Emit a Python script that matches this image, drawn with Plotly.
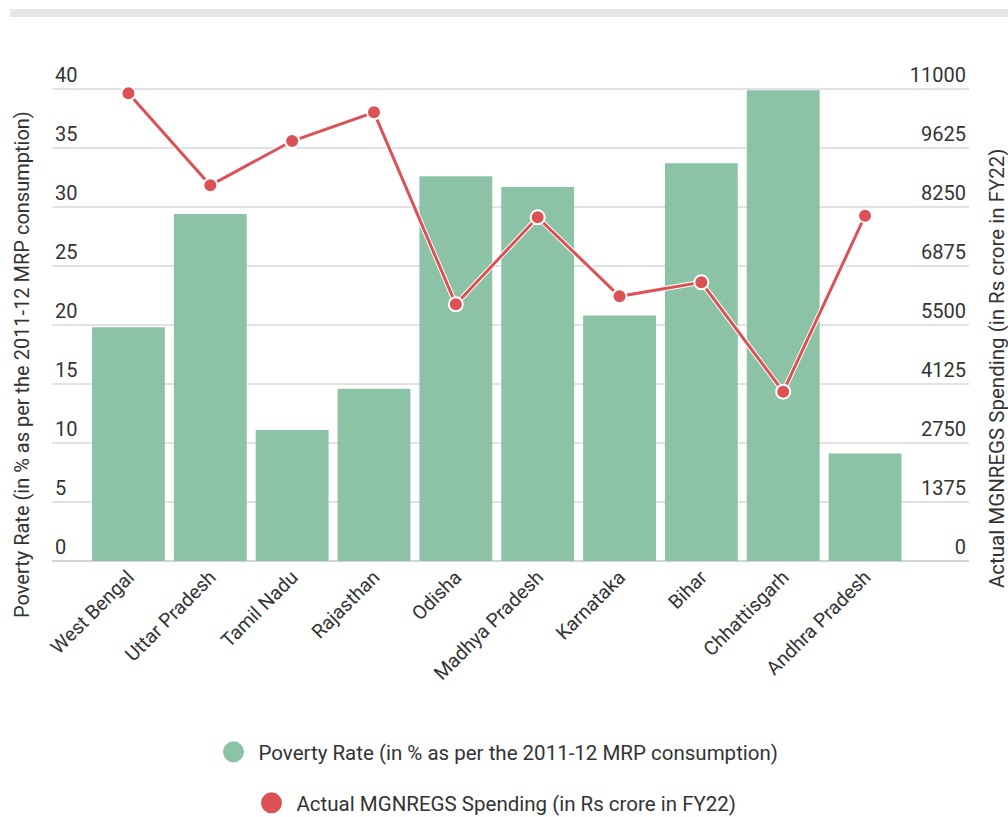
import plotly.graph_objects as go

# ---- data ----
states = ["West Bengal", "Uttar Pradesh", "Tamil Nadu", "Rajasthan", "Odisha",
          "Madhya Pradesh", "Karnataka", "Bihar", "Chhattisgarh", "Andhra Pradesh"]
poverty_rate = [19.8, 29.4, 11.1, 14.6, 32.6, 31.7, 20.8, 33.7, 39.9, 9.1]
mgnregs_spending = [10900, 8756, 9788, 10457, 5982, 8010, 6169, 6495, 3946, 8047]
left_ticks = [0, 5, 10, 15, 20, 25, 30, 35, 40]
right_ticks = [0, 1375, 2750, 4125, 5500, 6875, 8250, 9625, 11000]
bar_name = "Poverty Rate (in % as per the 2011-12 MRP consumption)"
line_name = "Actual MGNREGS Spending (in Rs crore in FY22)"

# ---- styles ----
BAR = "#8cc2a6"
LINE = "#dc5154"
FONT = "Roboto"
TXT = "#333333"

W, H = 1008, 817
# plot area in pixels: x 52..969, y 60..561 ; value 40 / 11000 sits at y=89
L, R, T, B = 52, 969, 60, 561
TOP_VALUE_PX = 89
pw, ph = R - L, B - T
y_max = 40 * (B - T) / (B - TOP_VALUE_PX)
y2_max = 11000 * (B - T) / (B - TOP_VALUE_PX)


def px_x(p):
    return (p - L) / pw


def px_y(p):
    return (B - p) / ph


fig = go.Figure()
fig.add_trace(go.Bar(x=states, y=poverty_rate, name=bar_name,
                     marker=dict(color=BAR, line=dict(width=0)),
                     showlegend=False, yaxis="y"))
fig.add_trace(go.Scatter(x=states, y=mgnregs_spending, yaxis="y2", mode="lines",
                         line=dict(color="white", width=5), showlegend=False,
                         hoverinfo="skip"))
fig.add_trace(go.Scatter(x=states, y=mgnregs_spending, yaxis="y2", name=line_name,
                         mode="lines+markers", line=dict(color=LINE, width=3),
                         marker=dict(size=14, color=LINE, line=dict(color="white", width=2)),
                         showlegend=False))
# legend entries (circle symbols)
fig.add_trace(go.Scatter(x=[None], y=[None], mode="markers", name=bar_name,
                         marker=dict(size=16, color=BAR, line=dict(color=BAR, width=5)),
                         legend="legend"))
fig.add_trace(go.Scatter(x=[None], y=[None], mode="markers", name=line_name,
                         marker=dict(size=16, color=LINE, line=dict(color=LINE, width=5)),
                         legend="legend2"))

fig.update_layout(
    width=W, height=H,
    margin=dict(l=L, r=W - R, t=T, b=H - B, pad=0, autoexpand=False),
    paper_bgcolor="white", plot_bgcolor="white",
    font=dict(family=FONT, color=TXT, size=20),
    bargap=0.11,
    xaxis=dict(type="category", range=[-0.934, 10.27], showgrid=False, showline=False,
               ticks="", tickangle=-45, tickfont=dict(size=19.5, color=TXT), zeroline=False),
    yaxis=dict(range=[0, y_max], tickvals=left_ticks, ticklabelposition="inside top",
               tickformat="d",
               showgrid=True, gridcolor="#e2e2e2", gridwidth=1.5,
               zeroline=True, zerolinecolor="#d4d4d4", zerolinewidth=2,
               showline=False, ticks="", tickfont=dict(size=20, color=TXT)),
    yaxis2=dict(range=[0, y2_max], tickvals=right_ticks, overlaying="y", side="right",
                tickformat="d",
                ticklabelposition="inside top", showgrid=False, zeroline=False,
                showline=False, ticks="", tickfont=dict(size=20, color=TXT)),
    legend=dict(xref="container", yref="container", x=496 / W, y=(H - 752) / H,
                xanchor="center", yanchor="middle",
                font=dict(size=20.5, color=TXT), bgcolor="rgba(0,0,0,0)", itemwidth=40),
    legend2=dict(xref="container", yref="container", x=494 / W, y=(H - 803) / H,
                 xanchor="center", yanchor="middle",
                 font=dict(size=20.5, color=TXT), bgcolor="rgba(0,0,0,0)", itemwidth=40),
    shapes=[dict(type="rect", xref="paper", yref="paper",
                 x0=px_x(10), x1=px_x(1010), y0=px_y(17), y1=px_y(9),
                 fillcolor="#e6e6e6", line=dict(width=0), layer="below")],
    annotations=[
        dict(text=bar_name, textangle=-90, xref="paper", yref="paper",
             x=px_x(22), y=px_y(365), xanchor="center", yanchor="middle",
             showarrow=False, font=dict(size=20, color=TXT)),
        dict(text=line_name, textangle=-90, xref="paper", yref="paper",
             x=px_x(997), y=px_y(369), xanchor="center", yanchor="middle",
             showarrow=False, font=dict(size=20.5, color=TXT)),
    ],
)

fig.write_html("out.html")
